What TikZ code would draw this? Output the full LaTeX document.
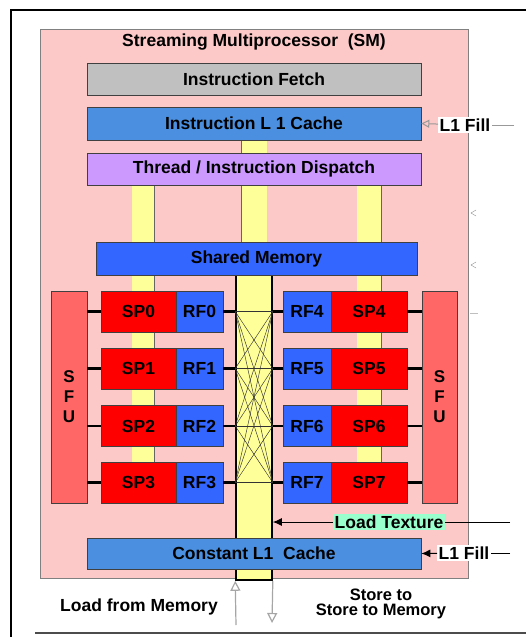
\documentclass[tikz,border=0pt]{standalone}
\usepackage{fontspec}
\setmainfont{Liberation Sans}
\usetikzlibrary{arrows.meta}
\definecolor{smpink}{HTML}{FCC8C8}
\definecolor{fetchgray}{HTML}{C0C0C0}
\definecolor{cacheblue}{HTML}{4A8FE0}
\definecolor{disppurple}{HTML}{CC99FF}
\definecolor{shmblue}{HTML}{3366FF}
\definecolor{spred}{HTML}{FF0000}
\definecolor{sfured}{HTML}{FF6666}
\definecolor{busyellow}{HTML}{FFFF99}
\definecolor{texgreen}{HTML}{99FFCC}
\pgfdeclarelayer{back}
\pgfdeclarelayer{busses}
\pgfsetlayers{back,busses,main}
\tikzset{
  lbl/.style={font=\bfseries\fontsize{17.5}{19}\selectfont},
  box/.style={lbl, draw=black!75, line width=0.6pt, inner sep=0pt},
  wide/.style={box, minimum width=334pt, minimum height=32pt},
  spbox/.style={box, fill=spred, minimum width=75pt, minimum height=41pt},
  rfbox/.style={box, fill=shmblue, minimum width=47pt, minimum height=41pt},
  sfubox/.style={box, fill=sfured, minimum width=36pt, minimum height=212pt, align=center,
    font=\bfseries\fontsize{17}{20}\selectfont},
  bus/.style={draw=black!60, line width=0.5pt, double=busyellow, double distance=22pt},
  link/.style={line width=2.2pt},
  tag/.style={lbl, inner sep=1.5pt},
}
\begin{document}
\begin{tikzpicture}[x=1pt, y=-1pt]
\useasboundingbox (0,0) rectangle (526,637);
% frame of the page
\draw[line width=1.5pt] (526,10) -- (11,10) -- (11,637);
\draw[line width=2pt, black!70] (35,633) -- (526,633);
\begin{pgfonlayer}{back}
\node[draw=black!50, line width=0.8pt, fill=smpink, minimum width=428pt, minimum height=549pt, inner sep=0pt] (sm) at (254,303.5) {};
\end{pgfonlayer}
\node[lbl] (smtitle) at (254,42) {Streaming Multiprocessor\ \ (SM)};
\node[wide, fill=fetchgray] (fetch) at (254,79) {Instruction Fetch};
\node[wide, fill=cacheblue, minimum height=33pt] (icache) at (254,123.5) {Instruction L 1 Cache};
\node[wide, fill=disppurple] (disp) at (254,169) {Thread / Instruction Dispatch};
\node[wide, fill=shmblue, minimum width=321pt, minimum height=33pt] (shm) at (256.5,258.5) {Shared Memory};
\node[sfubox] (sfuL) at (69,397) {S\\F\\U};
\node[sfubox, minimum width=35pt] (sfuR) at (439.5,397) {S\\F\\U};
% column through the crossbar
\begin{pgfonlayer}{busses}
\node[draw, line width=1.6pt, fill=busyellow, minimum width=36pt, minimum height=305pt, inner sep=0pt] (xbar) at (254,427.5) {};
\end{pgfonlayer}
\foreach \i/\y [evaluate=\i as \j using {int(\i+4)}] in {0/311.5,1/368.5,2/426,3/482.5} {
  \node[spbox] (sp\i) at (138.5,\y) {SP\i};
  \node[rfbox] (rf\i) at (199.5,\y) {RF\i};
  \node[rfbox, minimum width=48pt] (rf\j) at (307,\y) {RF\j};
  \node[spbox, minimum width=76pt] (sp\j) at (369,\y) {SP\j};
  \draw[link] (sfuL.east |- sp\i) -- (sp\i.west);
  \draw[link] (rf\i.east) -- (xbar.west |- rf\i);
  \draw[link] (xbar.east |- rf\j) -- (rf\j.west);
  \draw[link] (sp\j.east) -- (sfuR.west |- sp\j);
}
\node[wide, fill=cacheblue, minimum height=31pt] (ccache) at (254,553.5) {Constant L1\ \ Cache};
% yellow busses
\coordinate (busL) at (143,0);
\coordinate (busC) at (254,0);
\coordinate (busR) at (369,0);
\begin{pgfonlayer}{busses}
\draw[bus, double distance=25pt] (icache.south) -- (disp.north);
\draw[bus] (disp.south -| busL) -- (shm.north -| busL);
\draw[bus, double distance=25pt] (disp.south -| busC) -- (shm.north -| busC);
\draw[bus, double distance=24pt] (disp.south -| busR) -- (shm.north -| busR);
\draw[bus] (shm.south -| busL) -- (sp0.north -| busL);
\draw[bus, double distance=24pt] (shm.south -| busR) -- (sp4.north -| busR);
\foreach \a/\b in {0/1,1/2,2/3} {
  \draw[bus] (sp\a.south -| busL) -- (sp\b.north -| busL);
}
\foreach \a/\b in {4/5,5/6,6/7} {
  \draw[bus, double distance=24pt] (sp\a.south -| busR) -- (sp\b.north -| busR);
}
% crossbar
\foreach \i in {0,...,3} {
  \foreach \j in {4,...,7} {
    \draw[black!80, line width=0.45pt] (xbar.west |- rf\i) -- (xbar.east |- rf\j);
  }
}
\end{pgfonlayer}
% fills and loads
\coordinate (fillin1) at (514,125);
\node[tag, fill=white] (fill1) at (465,125) {L1 Fill};
\draw[black!40, line width=1pt] (fillin1) -- (fill1);
\draw[black!40, line width=1pt, -{Triangle[open, length=8pt, width=8pt]}] (fill1) -- (icache.east);
\coordinate (texin) at (510,522);
\node[tag, fill=texgreen] (tex) at (389,522) {Load Texture};
\draw[line width=1pt] (texin) -- (tex);
\draw[line width=1pt, -{Latex[length=9pt, width=8pt]}] (tex) -- (xbar.east |- tex);
\coordinate (fillin2) at (510,553);
\node[tag, fill=white] (fill2) at (464,553) {L1 Fill};
\draw[line width=1pt] (fillin2) -- (fill2);
\draw[line width=1pt, -{Latex[length=9pt, width=8pt]}] (fill2) -- (ccache.east);
\coordinate (ldfrom) at (236,625);
\coordinate (stto) at (272,623);
\draw[black!35, line width=1.2pt, -{Triangle[open, length=10pt, width=10pt]}] (ldfrom) -- (xbar.south west);
\draw[black!35, line width=1.2pt, -{Triangle[open, length=10pt, width=10pt]}] (xbar.south east) -- (stto);
\node[lbl] (ldlabel) at (139,607) {Load from Memory};
\node[lbl, align=center, font=\bfseries\fontsize{16.5}{15}\selectfont] (stlabel) at (381,604) {Store to\\Store to Memory};
% small marks on the right
\draw[black!45] (476,210) -- (471,213) -- (476,216);
\draw[black!45] (476,262) -- (471,265) -- (476,268);
\draw[black!25] (470,313) -- (478,313);
\end{tikzpicture}
\end{document}
